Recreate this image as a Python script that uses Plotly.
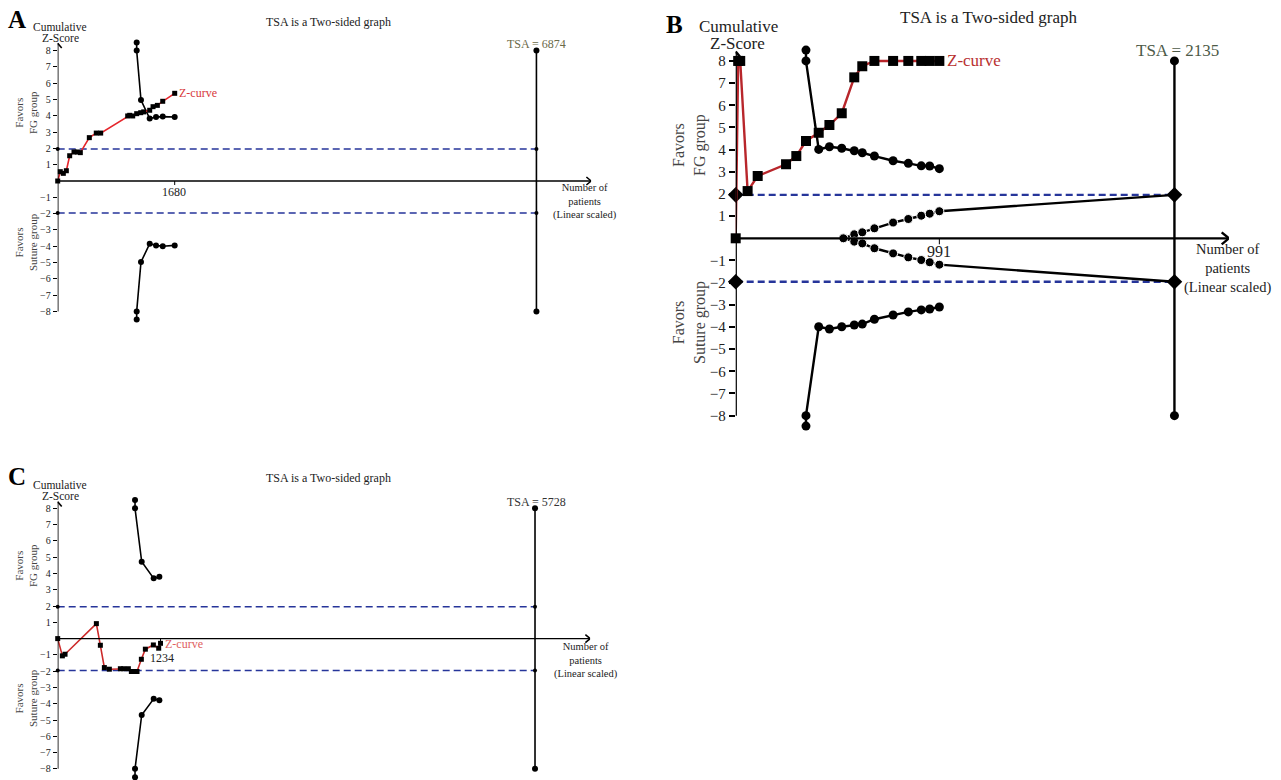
import plotly.graph_objects as go

W, H = 1281, 780

# ---------------- data ----------------
# Panel A
A_tsa = 6874
A_tick = 1680
A_z_x = [0, 37, 81, 124, 172, 234, 282, 325, 454, 554, 617, 1005, 1034, 1077, 1134, 1192, 1235, 1321, 1369, 1431, 1508, 1680]
A_z_y = [0, 0.57, 0.47, 0.63, 1.55, 1.78, 1.78, 1.74, 2.66, 2.94, 2.94, 3.99, 4.03, 3.99, 4.13, 4.19, 4.24, 4.34, 4.56, 4.64, 4.89, 5.38]
A_b_x = [1134, 1134, 1196, 1321, 1412, 1508, 1680]
A_b_up = [8.5, 8.0, 4.97, 3.83, 3.93, 3.95, 3.93]
A_b_lo = [-8.5, -8.0, -4.97, -3.85, -3.95, -4.0, -3.95]

# Panel B
B_tsa = 2135
B_tick = 991
B_z_x = [0, 12, 22, 58, 107, 245, 295, 342, 404, 456, 516, 577, 616, 675, 766, 840, 903, 944, 991]
B_z_y = [0, 8, 8, 2.13, 2.81, 3.34, 3.71, 4.39, 4.76, 5.11, 5.64, 7.26, 7.76, 8, 8, 8, 8, 8, 8]
B_b_x = [342, 342, 404, 456, 516, 577, 616, 675, 766, 840, 903, 944, 991]
B_b_up = [8.49, 8.0, 4.01, 4.13, 4.06, 3.95, 3.86, 3.71, 3.5, 3.38, 3.27, 3.26, 3.14]
B_b_lo = [-8.47, -8.0, -3.99, -4.09, -3.99, -3.91, -3.87, -3.65, -3.46, -3.32, -3.23, -3.19, -3.1]
B_f_x = [524, 577, 616, 675, 766, 840, 903, 944, 991, 2135]
B_f_up = [0, 0.18, 0.27, 0.45, 0.71, 0.87, 1.02, 1.11, 1.22, 1.96]
B_f_lo = [0, -0.15, -0.23, -0.45, -0.68, -0.86, -0.98, -1.08, -1.19, -1.96]

# Panel C
C_tsa = 5728
C_tick = 1234
C_z_x = [0, 56, 88, 464, 512, 560, 620, 752, 792, 848, 884, 920, 952, 1004, 1052, 1148, 1212, 1234]
C_z_y = [0, -1.06, -0.96, 0.92, -0.41, -1.78, -1.88, -1.85, -1.85, -1.85, -2.02, -2.02, -2.02, -1.27, -0.65, -0.39, -0.59, -0.29]
C_b_x = [928, 928, 1008, 1152, 1220]
C_b_up = [8.51, 8.0, 4.72, 3.7, 3.8]
C_b_lo = [-8.52, -8.0, -4.69, -3.7, -3.79]

CRIT = 1.96
ZMAX = 8
y_tickvals = [8, 7, 6, 5, 4, 3, 2, 1, -1, -2, -3, -4, -5, -6, -7, -8]
y_ticktext = ["8", "7", "6", "5", "4", "3", "2", "1", "\u22121", "\u22122", "\u22123", "\u22124", "\u22125", "\u22126", "\u22127", "\u22128"]

FONT = "Liberation Serif"
NAVY = "#26359a"
YLIM = 8.6

fig = go.Figure()
shapes = []
annots = []


def P(px, py):
    return px / W, 1 - py / H


def txt(px, py, s, size, color="#222", angle=0, bold=False, xanchor="center"):
    x, y = P(px, py)
    annots.append(dict(x=x, y=y, xref="paper", yref="paper", text=("<b>%s</b>" % s if bold else s),
                       showarrow=False, textangle=angle, xanchor=xanchor, yanchor="middle",
                       font=dict(family=FONT, size=size, color=color)))


def panel(idx, px0, ppx, xmax, py0, ppz, ytop, tsa, tick, zx, zy, bx, bup, blo,
          lw, zcol, zsq, bdot, dmark, dsize, tfs, fut=None):
    xa = "x" if idx == 1 else "x%d" % idx
    ya = "y" if idx == 1 else "y%d" % idx
    xk = "xaxis" if idx == 1 else "xaxis%d" % idx
    yk = "yaxis" if idx == 1 else "yaxis%d" % idx
    xd = [px0 / W, (px0 + xmax * ppx) / W]
    yd = [1 - (py0 + YLIM * ppz) / H, 1 - (py0 - YLIM * ppz) / H]
    big = tfs >= 12
    fig.update_layout(**{
        xk: dict(domain=xd, range=[0, xmax], visible=False, anchor=ya, fixedrange=True),
        yk: dict(domain=yd, range=[-YLIM, YLIM], anchor=xa, showgrid=False, zeroline=False,
                 showline=False,
                 ticks="outside", ticklen=6 if big else 4, tickwidth=1.5 if big else 1,
                 tickcolor="black", tickvals=y_tickvals, ticktext=y_ticktext,
                 tickfont=dict(family=FONT, size=tfs, color="#222"), fixedrange=True),
    })
    common = dict(xaxis=xa, yaxis=ya, showlegend=False, cliponaxis=False, hoverinfo="skip")
    # dashed critical lines
    for c in (CRIT, -CRIT):
        fig.add_trace(go.Scatter(x=[0, tsa], y=[c, c], mode="lines+markers",
                                 line=dict(color=NAVY, width=lw * 0.95, dash="7px,4px"),
                                 marker=dict(symbol=dmark, size=dsize, color="black", opacity=1), **common))
    # TSA vertical line
    fig.add_trace(go.Scatter(x=[tsa, tsa], y=[-ZMAX, ZMAX], mode="lines+markers",
                             line=dict(color="black", width=lw),
                             marker=dict(symbol="circle", size=bdot, color="black", opacity=1), **common))
    # futility
    if fut is not None:
        fx, fu, fl = fut
        sizes = [bdot] * (len(fx) - 1) + [0]
        for fy in (fu, fl):
            fig.add_trace(go.Scatter(x=fx, y=fy, mode="lines+markers",
                                     line=dict(color="black", width=lw),
                                     marker=dict(symbol="circle", size=sizes, color="black", opacity=1), **common))
    # boundaries
    for by in (bup, blo):
        fig.add_trace(go.Scatter(x=bx, y=by, mode="lines+markers",
                                 line=dict(color="black", width=lw),
                                 marker=dict(symbol="circle", size=bdot, color="black", opacity=1), **common))
    # z-curve
    fig.add_trace(go.Scatter(x=zx, y=zy, mode="lines+markers",
                             line=dict(color=zcol, width=lw),
                             marker=dict(symbol="square", size=zsq, color="black", opacity=1), **common))
    # y axis line
    shapes.append(dict(type="line", xref=xa, yref=ya, x0=0, x1=0, y0=-ZMAX, y1=ytop,
                       line=dict(color="black", width=lw)))
    # x axis line
    shapes.append(dict(type="line", xref=xa, yref=ya, x0=0, x1=xmax, y0=0, y1=0,
                       line=dict(color="black", width=lw * 0.9)))
    ah = 6 if big else 4
    for s in (1, -1):
        shapes.append(dict(type="line", xref=xa, yref=ya, xsizemode="pixel", ysizemode="pixel",
                           xanchor=xmax, yanchor=0, x0=-ah * 1.2, y0=s * ah, x1=0, y1=0,
                           line=dict(color="black", width=lw)))
        shapes.append(dict(type="line", xref=xa, yref=ya, xsizemode="pixel", ysizemode="pixel",
                           xanchor=0, yanchor=ytop, x0=s * ah, y0=-ah * 1.2, x1=0, y1=0,
                           line=dict(color="black", width=lw)))
    # x tick
    shapes.append(dict(type="line", xref=xa, yref=ya, ysizemode="pixel", yanchor=0,
                       x0=tick, x1=tick, y0=0, y1=-ah, line=dict(color="black", width=1)))


# Panel A
panel(1, 57.7, 117 / 1680, 7660, 181, 16.3, 8.45, A_tsa, A_tick, A_z_x, A_z_y, A_b_x, A_b_up, A_b_lo,
      lw=1.6, zcol="#e5262c", zsq=5, bdot=6, dmark="circle", dsize=4, tfs=10)
# Panel B
panel(2, 735.7, 0.2055, 2400, 238.3, 22.17, 8.42, B_tsa, B_tick, B_z_x, B_z_y, B_b_x, B_b_up, B_b_lo,
      lw=2.4, zcol="#b8262b", zsq=10, bdot=9, dmark="diamond", dsize=12, tfs=15,
      fut=(B_f_x, B_f_up, B_f_lo))
# Panel C
panel(3, 57.7, 0.08333, 6390, 638.6, 16.28, 8.41, C_tsa, C_tick, C_z_x, C_z_y, C_b_x, C_b_up, C_b_lo,
      lw=1.6, zcol="#cc2a2a", zsq=5, bdot=6, dmark="circle", dsize=4, tfs=10)

# ---------------- text ----------------
# Panel A
txt(17, 19, "A", 25, "black", bold=True)
txt(328, 22, "TSA is a Two-sided graph", 12)
txt(60, 27, "Cumulative", 11.5)
txt(60, 38, "Z-Score", 11.5)
txt(26, 113, "Favors<br>FG group", 11, "#444", angle=-90)
txt(26, 242, "Favors<br>Suture group", 11, "#444", angle=-90)
txt(174, 192, "1680", 12)
txt(177, 93, "Z-curve", 12, "#d8383c", xanchor="left")
txt(536, 44, "TSA = 6874", 12, "#6b6a48")
txt(585, 202, "Number of<br>patients<br>(Linear scaled)", 10.5)

# Panel B
txt(674, 25, "B", 25, "black", bold=True)
txt(988, 17, "TSA is a Two-sided graph", 17)
txt(738, 27, "Cumulative", 17)
txt(737, 43, "Z-Score", 17)
txt(689, 145, "Favors<br>FG group", 16, "#444", angle=-90)
txt(689, 323, "Favors<br>Suture group", 16, "#444", angle=-90)
txt(939, 252, "991", 16)
txt(945, 61, "Z-curve", 17, "#b83030", xanchor="left")
txt(1177, 51, "TSA = 2135", 17, "#4d5a48")
txt(1228, 268, "Number of<br>patients<br>(Linear scaled)", 14.5)

# Panel C
txt(17, 476, "C", 25, "black", bold=True)
txt(328, 478, "TSA is a Two-sided graph", 12)
txt(60, 485, "Cumulative", 11.5)
txt(60, 496, "Z-Score", 11.5)
txt(26, 566, "Favors<br>FG group", 11, "#444", angle=-90)
txt(26, 698, "Favors<br>Suture group", 11, "#444", angle=-90)
txt(162, 658, "1234", 12)
txt(163, 644, "Z-curve", 12, "#e06060", xanchor="left")
txt(536, 502, "TSA = 5728", 12, "#333")
txt(586, 660, "Number of<br>patients<br>(Linear scaled)", 10.5)

fig.update_layout(width=W, height=H, autosize=False, margin=dict(l=0, r=0, t=0, b=0),
                  paper_bgcolor="white", plot_bgcolor="rgba(0,0,0,0)",
                  shapes=shapes, annotations=annots, showlegend=False)

fig.write_html("out.html", config={"displayModeBar": False},
               post_script="document.body.style.margin='0px';")
